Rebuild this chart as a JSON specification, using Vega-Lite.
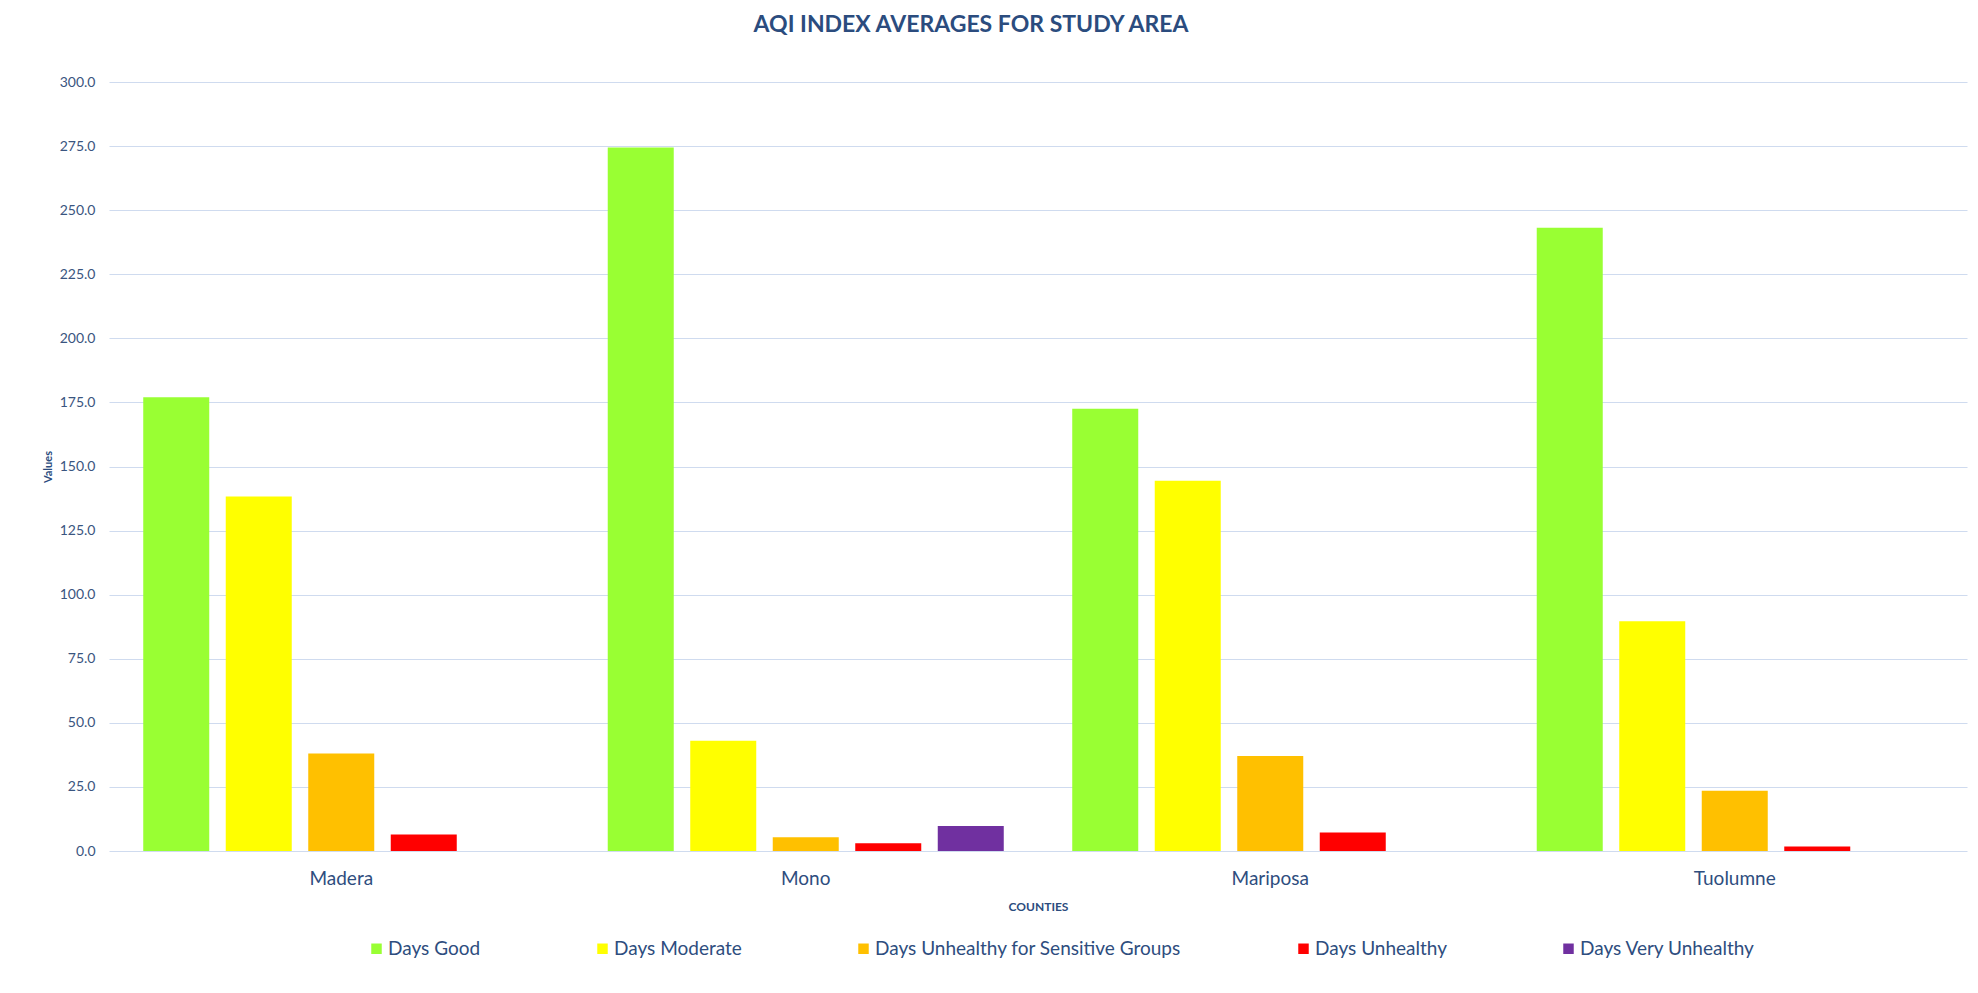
{
  "$schema": "https://vega.github.io/schema/vega-lite/v6.json",
  "width": 1858,
  "height": 769,
  "autosize": {"type": "none"},
  "padding": {"left": 109, "top": 82, "right": 11, "bottom": 142},
  "background": "white",
  "title": {
    "text": "AQI INDEX AVERAGES FOR STUDY AREA",
    "font": "Lato",
    "fontSize": 23,
    "fontWeight": "bold",
    "color": "#2b4c7e",
    "anchor": "middle",
    "dx": -67,
    "offset": 20,
    "baseline": "alphabetic"
  },
  "data": {
    "values": [
      {"county": "Madera", "category": "Days Good", "value": 177.0},
      {"county": "Madera", "category": "Days Moderate", "value": 138.3},
      {"county": "Madera", "category": "Days Unhealthy for Sensitive Groups", "value": 38.0},
      {"county": "Madera", "category": "Days Unhealthy", "value": 6.4},
      {"county": "Mono", "category": "Days Good", "value": 274.4},
      {"county": "Mono", "category": "Days Moderate", "value": 43.0},
      {"county": "Mono", "category": "Days Unhealthy for Sensitive Groups", "value": 5.4},
      {"county": "Mono", "category": "Days Unhealthy", "value": 3.0},
      {"county": "Mono", "category": "Days Very Unhealthy", "value": 9.8},
      {"county": "Mariposa", "category": "Days Good", "value": 172.5},
      {"county": "Mariposa", "category": "Days Moderate", "value": 144.4},
      {"county": "Mariposa", "category": "Days Unhealthy for Sensitive Groups", "value": 37.1},
      {"county": "Mariposa", "category": "Days Unhealthy", "value": 7.2},
      {"county": "Tuolumne", "category": "Days Good", "value": 243.1},
      {"county": "Tuolumne", "category": "Days Moderate", "value": 89.6},
      {"county": "Tuolumne", "category": "Days Unhealthy for Sensitive Groups", "value": 23.5},
      {"county": "Tuolumne", "category": "Days Unhealthy", "value": 1.8}
    ]
  },
  "mark": {"type": "bar"},
  "encoding": {
    "x": {
      "field": "county",
      "type": "nominal",
      "sort": ["Madera", "Mono", "Mariposa", "Tuolumne"],
      "scale": {"paddingInner": 0, "paddingOuter": 0},
      "axis": {
        "title": "COUNTIES",
        "titleFont": "Lato",
        "titleFontSize": 12,
        "titleFontWeight": "bold",
        "titleColor": "#2b4c7e",
        "titlePadding": 13,
        "labelFont": "Lato",
        "labelFontSize": 19,
        "labelColor": "#2e4d7e",
        "labelAngle": 0,
        "labelPadding": 18,
        "ticks": false,
        "domain": false,
        "grid": false
      }
    },
    "xOffset": {
      "field": "category",
      "type": "nominal",
      "sort": ["Days Good", "Days Moderate", "Days Unhealthy for Sensitive Groups", "Days Unhealthy", "Days Very Unhealthy"],
      "scale": {"paddingInner": 0.2, "paddingOuter": 0.415}
    },
    "y": {
      "field": "value",
      "type": "quantitative",
      "scale": {"domain": [0, 300], "nice": false},
      "axis": {
        "title": "Values",
        "titleFont": "Lato",
        "titleFontSize": 11,
        "titleFontWeight": "bold",
        "titleColor": "#2b4c7e",
        "titlePadding": 6,
        "values": [0, 25, 50, 75, 100, 125, 150, 175, 200, 225, 250, 275, 300],
        "format": ".1f",
        "labelFont": "Lato",
        "labelFontSize": 14,
        "labelColor": "#3a5580",
        "labelPadding": 14,
        "ticks": false,
        "domain": false,
        "grid": true,
        "gridColor": "#cfdbef",
        "gridWidth": 1.2
      }
    },
    "color": {
      "field": "category",
      "type": "nominal",
      "scale": {
        "domain": ["Days Good", "Days Moderate", "Days Unhealthy for Sensitive Groups", "Days Unhealthy", "Days Very Unhealthy"],
        "range": ["#99ff33", "#ffff00", "#ffc000", "#ff0000", "#7030a0"]
      },
      "legend": {
        "title": null,
        "orient": "none",
        "direction": "horizontal",
        "legendX": 258,
        "legendY": 857,
        "symbolType": "square",
        "symbolSize": 110,
        "symbolStrokeWidth": 0,
        "labelFont": "Lato",
        "labelFontSize": 19,
        "labelColor": "#2e4d7e",
        "labelOffset": 2,
        "columnPadding": 112,
        "padding": 0,
        "labelLimit": 500
      }
    }
  },
  "config": {
    "view": {"stroke": null}
  }
}
